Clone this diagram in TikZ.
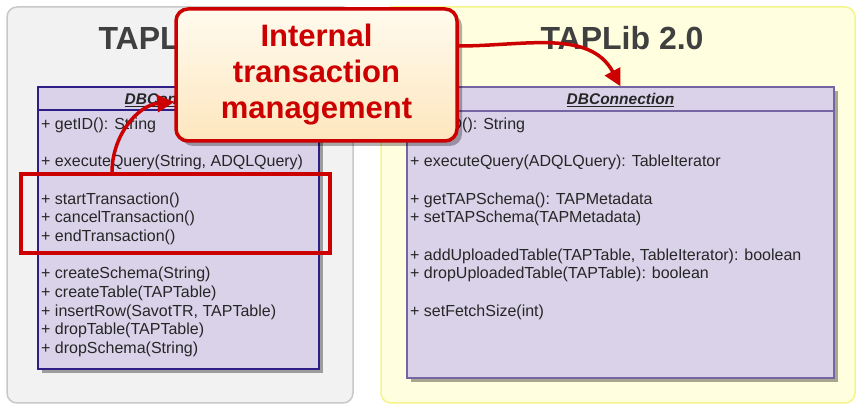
\documentclass[tikz,border=0pt]{standalone}
\usepackage{fontspec}
\setmainfont{Liberation Sans}
\usepackage{tikz}
\usetikzlibrary{shadows, arrows.meta}

\definecolor{panelgray}{HTML}{F2F2F2}
\definecolor{panelgrayline}{HTML}{C8C8C8}
\definecolor{panelyellow}{HTML}{FFFFE0}
\definecolor{panelyellowline}{HTML}{F4F48A}
\definecolor{classfill}{HTML}{D9D2E9}
\definecolor{oldline}{HTML}{2E1F86}
\definecolor{newline}{HTML}{7565A3}
\definecolor{alertred}{HTML}{CC0000}
\definecolor{calltop}{HTML}{FFFBEE}
\definecolor{callbottom}{HTML}{FDE6BE}
\definecolor{titlegray}{HTML}{404040}

\tikzset{
  panel/.style={rounded corners=10pt, line width=1.5pt},
  paneltitle/.style={anchor=base, text=titlegray, font=\fontsize{32}{36}\selectfont\bfseries},
  classbox/.style={rectangle, fill=classfill, line width=1.3pt, inner sep=0pt,
    drop shadow={shadow xshift=4pt, shadow yshift=-4pt, fill=black, opacity=0.35}},
  classhead/.style={anchor=base, inner sep=0pt, text=black!85, font=\fontsize{15.5}{18}\selectfont},
  member/.style={anchor=base west, inner sep=0pt, text=black!85, font=\fontsize{16}{18.67}\selectfont},
  txframe/.style={rectangle, draw=alertred, line width=3.5pt, inner sep=0pt},
  callout/.style={rectangle, rounded corners=12pt, draw=alertred, line width=3.5pt,
    top color=calltop, bottom color=callbottom, align=center, inner sep=0pt,
    text=alertred, font=\fontsize{31}{36}\selectfont\bfseries,
    drop shadow={shadow xshift=5pt, shadow yshift=-5pt, fill=black, opacity=0.3}},
  redarrow/.style={->, draw=alertred, line width=3.5pt}
}

\begin{document}
\begin{tikzpicture}[x=1pt, y=1pt, >={Triangle[length=17pt, width=17pt]}]
    \useasboundingbox (0,0) rectangle (857,406);

    % the two libraries
    \draw[panel, fill=panelgray, draw=panelgrayline] (7,3) rectangle (353,399);
    \draw[panel, fill=panelyellow, draw=panelyellowline] (381,3) rectangle (855,399);
    \node[paneltitle] (oldtitle) at (180,356) {TAPLib 1.0};
    \node[paneltitle] (newtitle) at (622,356) {TAPLib 2.0};

    % DBConnection of TAPLib 1.0
    \node[classbox, draw=oldline, minimum width=281pt, minimum height=282pt]
        (oldclass) at (178.5,178) {};
    \draw[oldline, line width=1.3pt] (38,296) -- (319,296);
    \node[classhead] (oldhead) at (178.5,301) {\underline{\textbf{\textit{DBConnection}}}};
    \foreach \k/\txt in {0/{+ getID(): String},
                         2/{+ executeQuery(String, ADQLQuery)},
                         4/{+ startTransaction()},
                         5/{+ cancelTransaction()},
                         6/{+ endTransaction()},
                         8/{+ createSchema(String)},
                         9/{+ createTable(TAPTable)},
                         10/{+ insertRow(SavotTR, TAPTable)},
                         11/{+ dropTable(TAPTable)},
                         12/{+ dropSchema(String)}}
        \node[member] (old-\k) at (41, 276.5-\k*18.67) {\txt};

    % DBConnection of TAPLib 2.0
    \node[classbox, draw=newline, minimum width=427pt, minimum height=291pt]
        (newclass) at (620.5,173.5) {};
    \draw[newline, line width=1.3pt] (407,295) -- (834,295);
    \node[classhead] (newhead) at (620.5,301) {\underline{\textbf{\textit{DBConnection}}}};
    \foreach \k/\txt in {0/{+ getID(): String},
                         2/{+ executeQuery(ADQLQuery): TableIterator},
                         4/{+ getTAPSchema(): TAPMetadata},
                         5/{+ setTAPSchema(TAPMetadata)},
                         7/{+ addUploadedTable(TAPTable, TableIterator): boolean},
                         8/{+ dropUploadedTable(TAPTable): boolean},
                         10/{+ setFetchSize(int)}}
        \node[member] (new-\k) at (410, 276.5-\k*18.67) {\txt};

    % transaction methods
    \node[txframe, minimum width=309pt, minimum height=79pt] (txgroup) at (175.5,192.5) {};

    % callout
    \node[callout, minimum width=281pt, minimum height=132pt] (callout) at (316.5,331)
        {Internal\\transaction\\management};

    % arrows
    \draw[redarrow] ([xshift=-63.5pt]txgroup.north) to[out=90, in=185] ([yshift=-27pt]callout.west);
    \draw[redarrow] ([yshift=29pt]callout.east) to[out=0, in=118] (newclass.north);

\end{tikzpicture}
\end{document}
